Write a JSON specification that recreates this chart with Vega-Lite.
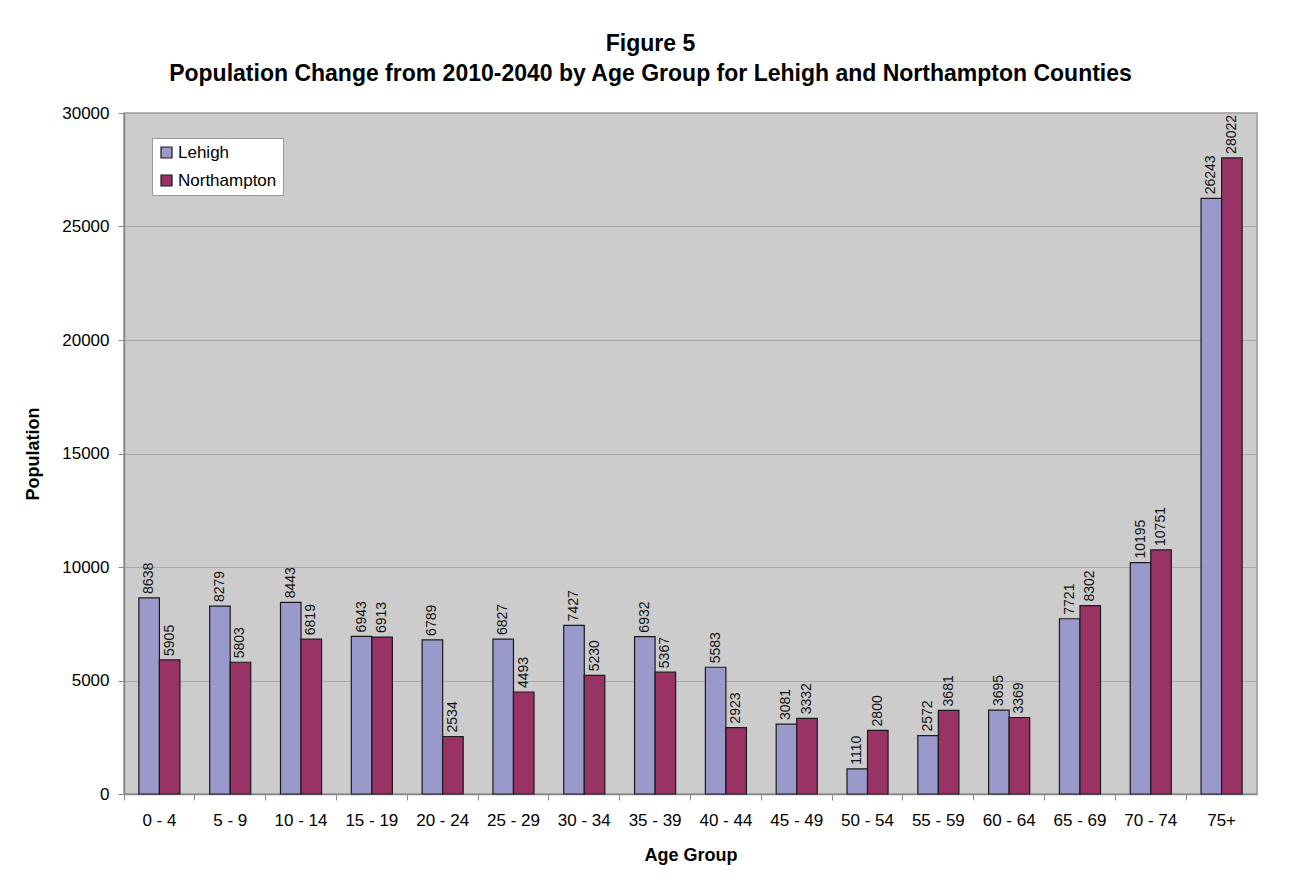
{
  "$schema": "https://vega.github.io/schema/vega-lite/v6.json",
  "autosize": "none",
  "width": 1133,
  "height": 681,
  "padding": {"left": 124, "top": 113, "right": 39, "bottom": 88},
  "background": "white",
  "title": {
    "text": ["Figure 5", "Population Change from 2010-2040 by Age Group for Lehigh and Northampton Counties"],
    "font": "Liberation Sans",
    "fontSize": 23,
    "fontWeight": "bold",
    "color": "#000000",
    "lineHeight": 30,
    "anchor": "middle",
    "dx": -40,
    "offset": 18
  },
  "data": {
    "values": [
      {"age": "0 - 4", "series": "Lehigh", "value": 8638},
      {"age": "0 - 4", "series": "Northampton", "value": 5905},
      {"age": "5 - 9", "series": "Lehigh", "value": 8279},
      {"age": "5 - 9", "series": "Northampton", "value": 5803},
      {"age": "10 - 14", "series": "Lehigh", "value": 8443},
      {"age": "10 - 14", "series": "Northampton", "value": 6819},
      {"age": "15 - 19", "series": "Lehigh", "value": 6943},
      {"age": "15 - 19", "series": "Northampton", "value": 6913},
      {"age": "20 - 24", "series": "Lehigh", "value": 6789},
      {"age": "20 - 24", "series": "Northampton", "value": 2534},
      {"age": "25 - 29", "series": "Lehigh", "value": 6827},
      {"age": "25 - 29", "series": "Northampton", "value": 4493},
      {"age": "30 - 34", "series": "Lehigh", "value": 7427},
      {"age": "30 - 34", "series": "Northampton", "value": 5230},
      {"age": "35 - 39", "series": "Lehigh", "value": 6932},
      {"age": "35 - 39", "series": "Northampton", "value": 5367},
      {"age": "40 - 44", "series": "Lehigh", "value": 5583},
      {"age": "40 - 44", "series": "Northampton", "value": 2923},
      {"age": "45 - 49", "series": "Lehigh", "value": 3081},
      {"age": "45 - 49", "series": "Northampton", "value": 3332},
      {"age": "50 - 54", "series": "Lehigh", "value": 1110},
      {"age": "50 - 54", "series": "Northampton", "value": 2800},
      {"age": "55 - 59", "series": "Lehigh", "value": 2572},
      {"age": "55 - 59", "series": "Northampton", "value": 3681},
      {"age": "60 - 64", "series": "Lehigh", "value": 3695},
      {"age": "60 - 64", "series": "Northampton", "value": 3369},
      {"age": "65 - 69", "series": "Lehigh", "value": 7721},
      {"age": "65 - 69", "series": "Northampton", "value": 8302},
      {"age": "70 - 74", "series": "Lehigh", "value": 10195},
      {"age": "70 - 74", "series": "Northampton", "value": 10751},
      {"age": "75+", "series": "Lehigh", "value": 26243},
      {"age": "75+", "series": "Northampton", "value": 28022}
    ]
  },
  "encoding": {
    "x": {
      "field": "age",
      "type": "nominal",
      "sort": null,
      "scale": {"paddingInner": 0.42, "paddingOuter": 0.21},
      "axis": {
        "title": "Age Group",
        "labelAngle": 0,
        "bandPosition": -0.362,
        "labelFontSize": 17,
        "labelPadding": 12,
        "tickSize": 6,
        "titlePadding": 18
      }
    },
    "xOffset": {"field": "series", "type": "nominal", "sort": ["Lehigh", "Northampton"]},
    "y": {
      "field": "value",
      "type": "quantitative",
      "scale": {"domain": [0, 30000]},
      "axis": {
        "title": "Population",
        "values": [0, 5000, 10000, 15000, 20000, 25000, 30000],
        "format": "d",
        "labelFontSize": 17,
        "tickSize": 6,
        "labelPadding": 9,
        "titlePadding": 19
      }
    }
  },
  "layer": [
    {
      "mark": {"type": "bar", "stroke": "#1a1a1a", "strokeWidth": 1.2},
      "encoding": {
        "color": {
          "field": "series",
          "type": "nominal",
          "scale": {"domain": ["Lehigh", "Northampton"], "range": ["#9999cc", "#993366"]},
          "legend": {
            "title": null,
            "orient": "none",
            "legendX": 28,
            "legendY": 25,
            "fillColor": "white",
            "strokeColor": "#999999",
            "padding": 6,
            "labelFontSize": 17,
            "symbolType": "square",
            "symbolSize": 121,
            "symbolStrokeColor": "#1a1a1a",
            "symbolStrokeWidth": 1.2,
            "rowPadding": 10,
            "labelOffset": 3
          }
        }
      }
    },
    {
      "mark": {"type": "text", "angle": 270, "align": "left", "baseline": "middle", "dx": 4, "fontSize": 14, "color": "#111111"},
      "encoding": {"text": {"field": "value", "type": "quantitative", "format": "d"}}
    }
  ],
  "config": {
    "font": "Liberation Sans",
    "view": {"fill": "#cccccc", "stroke": "#999999", "strokeWidth": 1.5},
    "axis": {
      "labelFont": "Liberation Sans",
      "titleFont": "Liberation Sans",
      "labelColor": "#000000",
      "titleColor": "#000000",
      "titleFontSize": 18,
      "titleFontWeight": "bold",
      "domainColor": "#888888",
      "domainWidth": 1.5,
      "tickColor": "#888888",
      "gridColor": "#a8a8a8",
      "gridWidth": 1.2
    },
    "axisX": {"grid": false},
    "axisY": {"grid": true},
    "legend": {"labelFont": "Liberation Sans", "labelColor": "#000000"}
  }
}
